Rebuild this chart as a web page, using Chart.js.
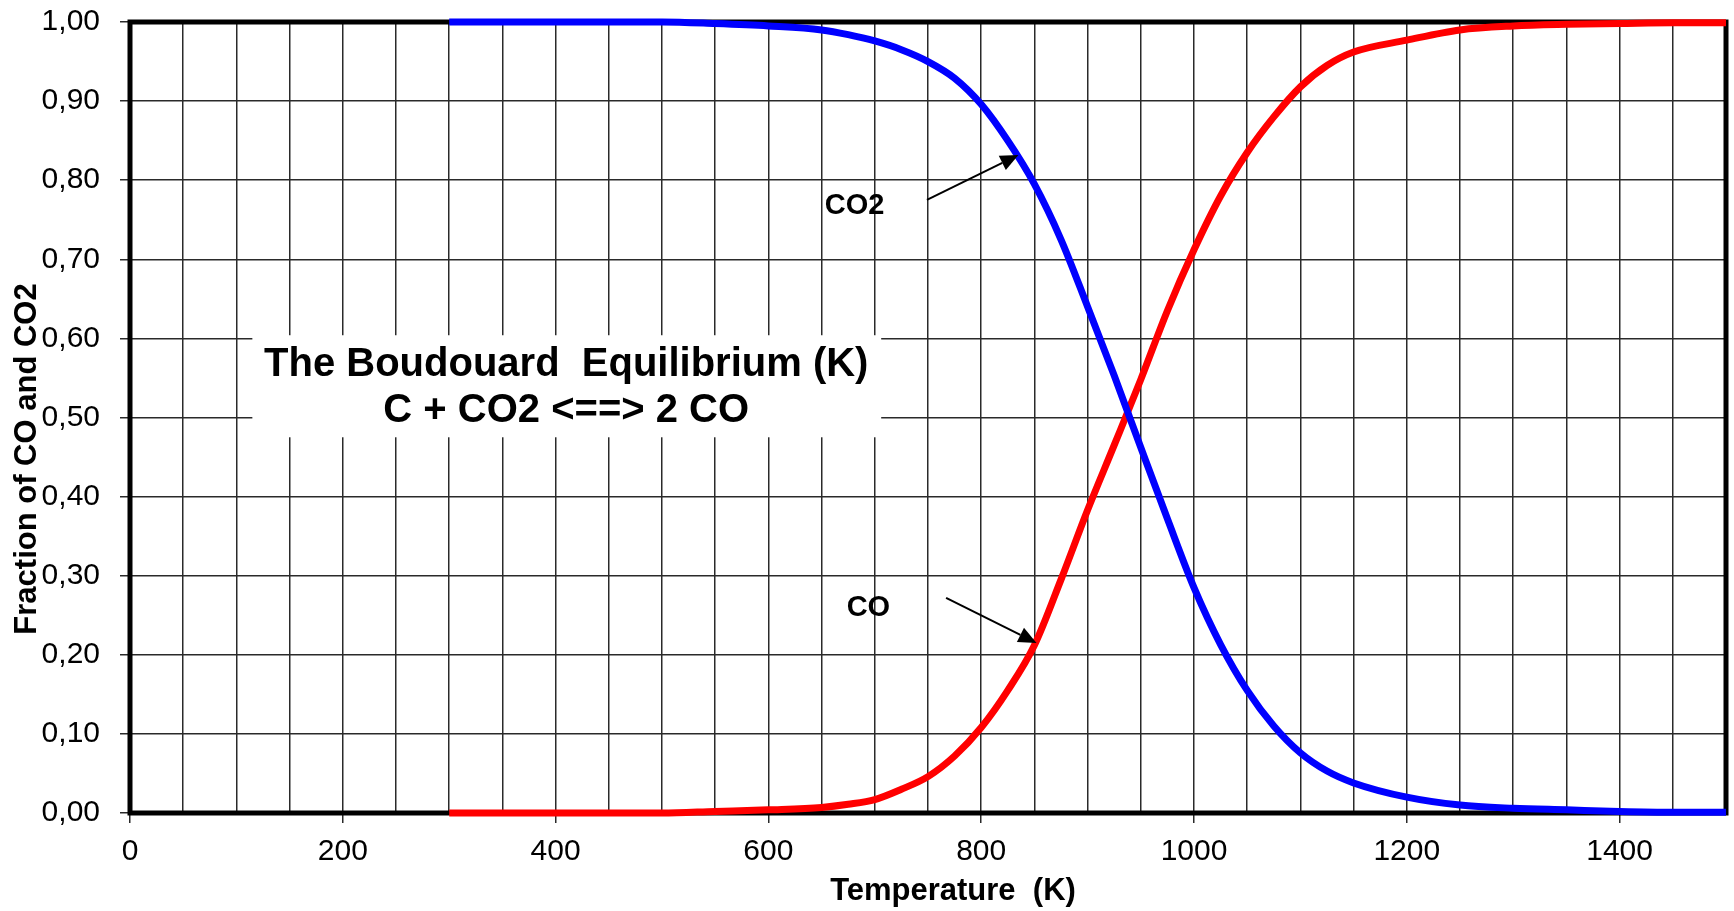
<!DOCTYPE html>
<html>
<head>
<meta charset="utf-8">
<title>The Boudouard Equilibrium</title>
<script src="https://cdn.jsdelivr.net/npm/chart.js@4.4.1/dist/chart.umd.min.js"></script>
<style>
  html, body { margin: 0; padding: 0; background: #fff; }
  #wrap { width: 1734px; height: 911px; position: relative; }
</style>
</head>
<body>
<div id="wrap"><canvas id="boudouard"></canvas></div>
<script>
// temperature (K) and equilibrium fractions
const temperatures = [300, 350, 400, 450, 500, 550, 600, 650, 675, 700, 725, 750, 775, 800, 825, 850, 875,
  900, 925, 950, 975, 1000, 1025, 1050, 1075, 1100, 1125, 1150, 1200, 1250, 1300, 1350, 1400, 1450, 1500];
const fractionCO2 = [1.000, 1.000, 1.000, 1.000, 1.000, 0.998, 0.995, 0.990, 0.984, 0.976, 0.965, 0.950, 0.929,
  0.896, 0.850, 0.795, 0.725, 0.640, 0.553, 0.462, 0.372, 0.285, 0.213, 0.155, 0.110, 0.076, 0.053,
  0.038, 0.020, 0.010, 0.006, 0.004, 0.002, 0.001, 0.001];
const fractionCO = [0.000, 0.000, 0.000, 0.000, 0.000, 0.002, 0.004, 0.007, 0.011, 0.017, 0.030, 0.046, 0.072,
  0.108, 0.155, 0.212, 0.295, 0.383, 0.465, 0.548, 0.635, 0.712, 0.780, 0.835, 0.880, 0.918, 0.945,
  0.962, 0.977, 0.990, 0.995, 0.997, 0.998, 0.999, 0.999];
const xTickLabels = [0, 200, 400, 600, 800, 1000, 1200, 1400];

const FONT = "'Liberation Sans', Arial, sans-serif";

const toPoints = (ys) => temperatures.map((t, i) => ({ x: t, y: ys[i] }));

// frame, title box, arrows and axis titles
const decorations = {
  id: 'decorations',
  beforeDatasetsDraw(chart) {
    const { ctx, chartArea: a, scales: { x, y } } = chart;
    ctx.save();
    ctx.lineWidth = 5;
    ctx.strokeStyle = '#000';
    ctx.strokeRect(a.left, a.top, a.right - a.left, a.bottom - a.top);

    // white box with the title
    const bx1 = x.getPixelForValue(115), bx2 = x.getPixelForValue(706);
    const by1 = y.getPixelForValue(0.604), by2 = y.getPixelForValue(0.475);
    ctx.fillStyle = '#fff';
    ctx.fillRect(bx1, by1, bx2 - bx1, by2 - by1);
    ctx.fillStyle = '#000';
    ctx.font = 'bold 40px ' + FONT;
    ctx.textAlign = 'center';
    ctx.textBaseline = 'middle';
    const cx = x.getPixelForValue(410);
    ctx.fillText('The Boudouard  Equilibrium (K)', cx, y.getPixelForValue(0.566));
    ctx.fillText('C + CO2 <==> 2 CO', cx, y.getPixelForValue(0.508));
    ctx.restore();
  },
  afterDatasetsDraw(chart) {
    const { ctx, scales: { x, y } } = chart;
    ctx.save();
    ctx.fillStyle = '#000';
    ctx.strokeStyle = '#000';
    ctx.textAlign = 'center';
    ctx.textBaseline = 'middle';
    ctx.font = 'bold 29px ' + FONT;
    ctx.fillText('CO2', x.getPixelForValue(681), y.getPixelForValue(0.767));
    ctx.fillText('CO', x.getPixelForValue(694), y.getPixelForValue(0.259));

    const arrow = (t0, v0, t1, v1) => {
      const x0 = x.getPixelForValue(t0), y0 = y.getPixelForValue(v0);
      const x1 = x.getPixelForValue(t1), y1 = y.getPixelForValue(v1);
      const ang = Math.atan2(y1 - y0, x1 - x0);
      const len = 18, half = 8;
      ctx.lineWidth = 2;
      ctx.beginPath();
      ctx.moveTo(x0, y0);
      ctx.lineTo(x1 - Math.cos(ang) * len, y1 - Math.sin(ang) * len);
      ctx.stroke();
      ctx.beginPath();
      ctx.moveTo(x1, y1);
      ctx.lineTo(x1 - Math.cos(ang) * len - Math.sin(ang) * half, y1 - Math.sin(ang) * len + Math.cos(ang) * half);
      ctx.lineTo(x1 - Math.cos(ang) * len + Math.sin(ang) * half, y1 - Math.sin(ang) * len - Math.cos(ang) * half);
      ctx.closePath();
      ctx.fill();
    };
    arrow(749, 0.775, 835, 0.832);
    arrow(767, 0.272, 852, 0.215);

    // axis titles
    ctx.font = 'bold 31px ' + FONT;
    ctx.fillText('Temperature  (K)', 953, 891);
    ctx.translate(27, 459);
    ctx.rotate(-Math.PI / 2);
    ctx.fillText('Fraction of CO and CO2', 0, 0);
    ctx.restore();
  }
};

const ctx = document.getElementById('boudouard').getContext('2d');
new Chart(ctx, {
  type: 'line',
  data: {
    datasets: [{
      label: 'CO2',
      data: toPoints(fractionCO2),
      borderColor: '#0000FF',
      borderWidth: 7,
      pointRadius: 0,
      cubicInterpolationMode: 'monotone',
      clip: false
    }, {
      label: 'CO',
      data: toPoints(fractionCO),
      borderColor: '#FF0000',
      borderWidth: 7,
      pointRadius: 0,
      cubicInterpolationMode: 'monotone',
      clip: false
    }]
  },
  options: {
    responsive: true,
    maintainAspectRatio: false,
    animation: false,
    layout: { padding: { top: 22, right: 8, left: 0, bottom: 0 } },
    plugins: {
      legend: { display: false },
      tooltip: { enabled: false }
    },
    scales: {
      x: {
        type: 'linear',
        min: 0,
        max: 1500,
        afterFit(scale) { scale.height = 98; scale.paddingLeft = 0; scale.paddingRight = 0; },
        border: { display: false },
        grid: {
          color: '#2a2a2a',
          lineWidth: 1.5,
          tickLength: 10,
          tickColor: (c) => xTickLabels.includes(c.tick && c.tick.value) ? '#2a2a2a' : 'rgba(0,0,0,0)'
        },
        ticks: {
          stepSize: 50,
          autoSkip: false,
          maxRotation: 0,
          padding: 11,
          color: '#000',
          font: { family: FONT, size: 30 },
          callback: (v) => xTickLabels.includes(v) ? String(v) : ''
        }
      },
      y: {
        min: 0,
        max: 1,
        afterFit(scale) { scale.width = 130; scale.paddingTop = 0; scale.paddingBottom = 0; },
        border: { display: false },
        grid: { color: '#2a2a2a', lineWidth: 1.5, tickLength: 10 },
        ticks: {
          stepSize: 0.1,
          padding: 20,
          color: '#000',
          font: { family: FONT, size: 30 },
          callback: (v) => v.toFixed(2).replace('.', ',')
        }
      }
    }
  },
  plugins: [decorations]
});
</script>
</body>
</html>
